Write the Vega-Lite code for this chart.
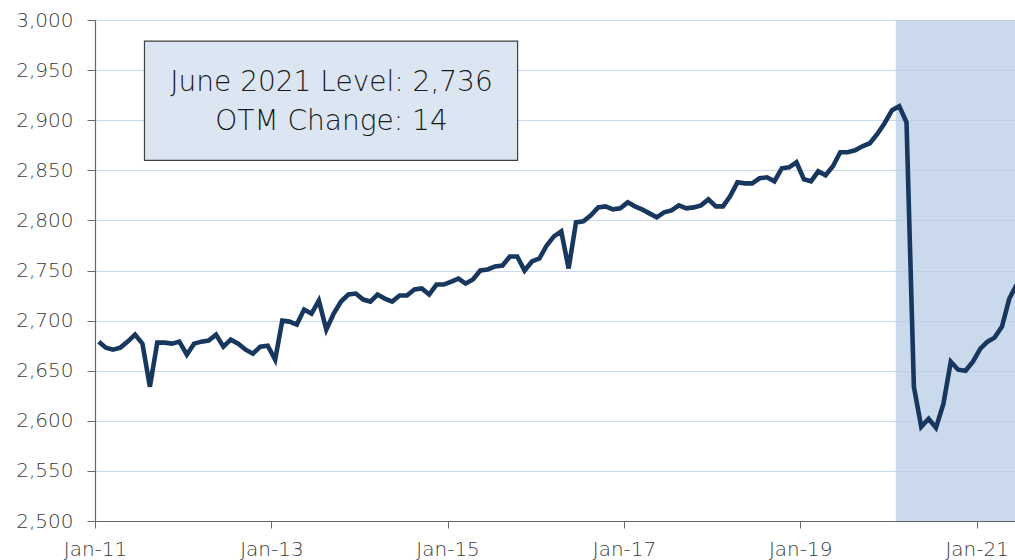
{
  "$schema": "https://vega.github.io/schema/vega-lite/v6.json",
  "width": 920,
  "height": 501,
  "autosize": {"type": "none"},
  "padding": {"left": 95, "top": 20, "right": 0, "bottom": 39},
  "background": "white",
  "config": {
    "view": {"stroke": null},
    "font": "DejaVu Sans",
    "axis": {
      "labelFont": "DejaVu Sans",
      "labelFontWeight": 200,
      "labelFontSize": 20,
      "labelColor": "#3a3a3a",
      "domainColor": "#666666",
      "tickColor": "#666666",
      "labelFlush": false,
      "title": null
    }
  },
  "datasets": {
    "series": [
      {"date": "2011-01-01", "value": 2679}, {"date": "2011-02-01", "value": 2673}, {"date": "2011-03-01", "value": 2671}, {"date": "2011-04-01", "value": 2673},
      {"date": "2011-05-01", "value": 2679}, {"date": "2011-06-01", "value": 2686}, {"date": "2011-07-01", "value": 2677}, {"date": "2011-08-01", "value": 2634},
      {"date": "2011-09-01", "value": 2678}, {"date": "2011-10-01", "value": 2678}, {"date": "2011-11-01", "value": 2677}, {"date": "2011-12-01", "value": 2679},
      {"date": "2012-01-01", "value": 2666}, {"date": "2012-02-01", "value": 2677}, {"date": "2012-03-01", "value": 2679}, {"date": "2012-04-01", "value": 2680},
      {"date": "2012-05-01", "value": 2686}, {"date": "2012-06-01", "value": 2674}, {"date": "2012-07-01", "value": 2681}, {"date": "2012-08-01", "value": 2677},
      {"date": "2012-09-01", "value": 2671}, {"date": "2012-10-01", "value": 2667}, {"date": "2012-11-01", "value": 2674}, {"date": "2012-12-01", "value": 2675},
      {"date": "2013-01-01", "value": 2661}, {"date": "2013-02-01", "value": 2700}, {"date": "2013-03-01", "value": 2699}, {"date": "2013-04-01", "value": 2696},
      {"date": "2013-05-01", "value": 2711}, {"date": "2013-06-01", "value": 2707}, {"date": "2013-07-01", "value": 2720}, {"date": "2013-08-01", "value": 2691},
      {"date": "2013-09-01", "value": 2707}, {"date": "2013-10-01", "value": 2719}, {"date": "2013-11-01", "value": 2726}, {"date": "2013-12-01", "value": 2727},
      {"date": "2014-01-01", "value": 2721}, {"date": "2014-02-01", "value": 2719}, {"date": "2014-03-01", "value": 2726}, {"date": "2014-04-01", "value": 2722},
      {"date": "2014-05-01", "value": 2719}, {"date": "2014-06-01", "value": 2725}, {"date": "2014-07-01", "value": 2725}, {"date": "2014-08-01", "value": 2731},
      {"date": "2014-09-01", "value": 2732}, {"date": "2014-10-01", "value": 2726}, {"date": "2014-11-01", "value": 2736}, {"date": "2014-12-01", "value": 2736},
      {"date": "2015-01-01", "value": 2739}, {"date": "2015-02-01", "value": 2742}, {"date": "2015-03-01", "value": 2737}, {"date": "2015-04-01", "value": 2741},
      {"date": "2015-05-01", "value": 2750}, {"date": "2015-06-01", "value": 2751}, {"date": "2015-07-01", "value": 2754}, {"date": "2015-08-01", "value": 2755},
      {"date": "2015-09-01", "value": 2764}, {"date": "2015-10-01", "value": 2764}, {"date": "2015-11-01", "value": 2750}, {"date": "2015-12-01", "value": 2759},
      {"date": "2016-01-01", "value": 2762}, {"date": "2016-02-01", "value": 2775}, {"date": "2016-03-01", "value": 2784}, {"date": "2016-04-01", "value": 2789},
      {"date": "2016-05-01", "value": 2752}, {"date": "2016-06-01", "value": 2798}, {"date": "2016-07-01", "value": 2799}, {"date": "2016-08-01", "value": 2805},
      {"date": "2016-09-01", "value": 2813}, {"date": "2016-10-01", "value": 2814}, {"date": "2016-11-01", "value": 2811}, {"date": "2016-12-01", "value": 2812},
      {"date": "2017-01-01", "value": 2818}, {"date": "2017-02-01", "value": 2814}, {"date": "2017-03-01", "value": 2811}, {"date": "2017-04-01", "value": 2807},
      {"date": "2017-05-01", "value": 2803}, {"date": "2017-06-01", "value": 2808}, {"date": "2017-07-01", "value": 2810}, {"date": "2017-08-01", "value": 2815},
      {"date": "2017-09-01", "value": 2812}, {"date": "2017-10-01", "value": 2813}, {"date": "2017-11-01", "value": 2815}, {"date": "2017-12-01", "value": 2821},
      {"date": "2018-01-01", "value": 2814}, {"date": "2018-02-01", "value": 2814}, {"date": "2018-03-01", "value": 2824}, {"date": "2018-04-01", "value": 2838},
      {"date": "2018-05-01", "value": 2837}, {"date": "2018-06-01", "value": 2837}, {"date": "2018-07-01", "value": 2842}, {"date": "2018-08-01", "value": 2843},
      {"date": "2018-09-01", "value": 2839}, {"date": "2018-10-01", "value": 2852}, {"date": "2018-11-01", "value": 2853}, {"date": "2018-12-01", "value": 2858},
      {"date": "2019-01-01", "value": 2841}, {"date": "2019-02-01", "value": 2839}, {"date": "2019-03-01", "value": 2849}, {"date": "2019-04-01", "value": 2845},
      {"date": "2019-05-01", "value": 2854}, {"date": "2019-06-01", "value": 2868}, {"date": "2019-07-01", "value": 2868}, {"date": "2019-08-01", "value": 2870},
      {"date": "2019-09-01", "value": 2874}, {"date": "2019-10-01", "value": 2877}, {"date": "2019-11-01", "value": 2886}, {"date": "2019-12-01", "value": 2897},
      {"date": "2020-01-01", "value": 2910}, {"date": "2020-02-01", "value": 2914}, {"date": "2020-03-01", "value": 2898}, {"date": "2020-04-01", "value": 2634},
      {"date": "2020-05-01", "value": 2594}, {"date": "2020-06-01", "value": 2602}, {"date": "2020-07-01", "value": 2593}, {"date": "2020-08-01", "value": 2617},
      {"date": "2020-09-01", "value": 2659}, {"date": "2020-10-01", "value": 2651}, {"date": "2020-11-01", "value": 2650}, {"date": "2020-12-01", "value": 2659},
      {"date": "2021-01-01", "value": 2672}, {"date": "2021-02-01", "value": 2679}, {"date": "2021-03-01", "value": 2683}, {"date": "2021-04-01", "value": 2694},
      {"date": "2021-05-01", "value": 2722}, {"date": "2021-06-01", "value": 2736}
    ],
    "shade": [{"start": "2020-02-01", "end": "2021-07-01"}],
    "box": [{"x1": "2011-07-25", "x2": "2015-10-18", "y1": 2860, "y2": 2979}],
    "notes": [
      {"x": "2013-09-07", "y": 2937, "label": "June 2021 Level: 2,736"},
      {"x": "2013-09-07", "y": 2898, "label": "OTM Change: 14"}
    ]
  },
  "encoding": {
    "y": {
      "type": "quantitative",
      "scale": {"domain": [2500, 3000], "nice": false, "zero": false},
      "axis": {
        "values": [2500, 2550, 2600, 2650, 2700, 2750, 2800, 2850, 2900, 2950, 3000],
        "format": ",.0f",
        "grid": true,
        "gridColor": "#c6d9f1",
        "gridWidth": 1.2,
        "tickSize": 8,
        "labelPadding": 14,
        "domainWidth": 1.2
      }
    }
  },
  "layer": [
    {
      "data": {"name": "shade"},
      "mark": {"type": "rect", "color": "#b8cce4", "opacity": 0.75, "clip": true},
      "encoding": {
        "x": {
          "field": "start",
          "type": "temporal",
          "scale": {
            "type": "utc",
            "nice": false,
            "domain": [
              {"year": 2011, "month": 1, "date": 1, "utc": true},
              {"year": 2021, "month": 6, "date": 9, "utc": true}
            ]
          },
          "axis": {
            "values": [
              {"year": 2011, "month": 1, "date": 1, "utc": true},
              {"year": 2013, "month": 1, "date": 1, "utc": true},
              {"year": 2015, "month": 1, "date": 1, "utc": true},
              {"year": 2017, "month": 1, "date": 1, "utc": true},
              {"year": 2019, "month": 1, "date": 1, "utc": true},
              {"year": 2021, "month": 1, "date": 1, "utc": true}
            ],
            "format": "%b-%y",
            "grid": false,
            "tickSize": 7,
            "labelPadding": 11,
            "labelOverlap": false,
            "domainWidth": 1.2
          }
        },
        "x2": {"field": "end"}
      }
    },
    {
      "data": {"name": "series"},
      "mark": {"type": "line", "color": "#17375e", "strokeWidth": 4.6, "clip": true},
      "encoding": {
        "x": {"field": "date", "type": "temporal", "timeUnit": "utcyearmonth", "bandPosition": 0.5},
        "y": {"field": "value", "type": "quantitative"}
      }
    },
    {
      "data": {"name": "box"},
      "mark": {"type": "rect", "fill": "#dce6f2", "stroke": "#404040", "strokeWidth": 1.2},
      "encoding": {
        "x": {"field": "x1", "type": "temporal"},
        "x2": {"field": "x2"},
        "y": {"field": "y1", "type": "quantitative"},
        "y2": {"field": "y2"}
      }
    },
    {
      "data": {"name": "notes"},
      "mark": {"type": "text", "font": "DejaVu Sans", "fontWeight": 200, "fontSize": 28, "color": "#1a1a1a", "align": "center", "baseline": "middle"},
      "encoding": {
        "x": {"field": "x", "type": "temporal"},
        "y": {"field": "y", "type": "quantitative"},
        "text": {"field": "label"}
      }
    }
  ]
}
